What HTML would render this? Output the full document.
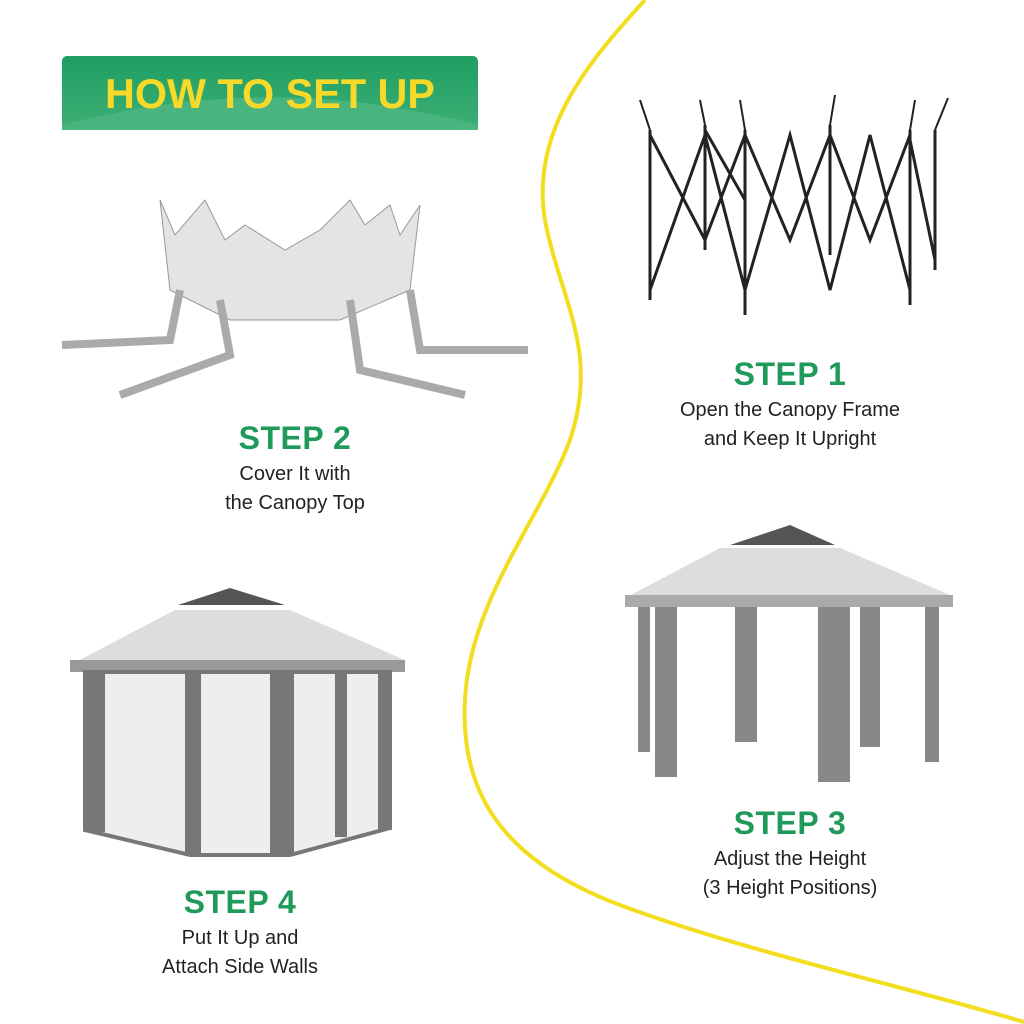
<!DOCTYPE html>
<html><head><meta charset="utf-8"><style>
body{margin:0;width:1024px;height:1024px;background:#fff;position:relative;overflow:hidden;font-family:"Liberation Sans",sans-serif}
.t{position:absolute;text-align:center;font-weight:bold;color:#1f9a5a;font-size:32px;letter-spacing:0.5px}
.d{position:absolute;text-align:center;color:#222;font-size:20px;line-height:29px}
</style></head><body>
<svg width="1024" height="1024" style="position:absolute;left:0;top:0">
<defs><linearGradient id="g" x1="0" y1="0" x2="0" y2="1"><stop offset="0" stop-color="#1f9e62"/><stop offset="1" stop-color="#3daf75"/></linearGradient></defs>
<rect x="62" y="56" width="416" height="74" rx="5" fill="url(#g)"/>
<path d="M62 125 Q270 70 478 125 L478 130 L62 130Z" fill="#4ab47f"/>
<text x="270" y="108" text-anchor="middle" font-family="Liberation Sans" font-weight="bold" font-size="42" fill="#f7d92a" textLength="330" lengthAdjust="spacingAndGlyphs">HOW TO SET UP</text>
<path d="M645 0 C590 60 530 130 545 220 C560 300 600 350 570 440 C540 520 470 600 465 700 C460 790 500 860 620 905 C740 950 900 985 1024 1022" fill="none" stroke="#f2dd1f" stroke-width="4"/>
<g stroke="#222" stroke-width="3" fill="none">
<path d="M650 130 L650 300 M705 125 L705 250 M745 130 L745 315 M830 125 L830 255 M910 130 L910 305 M935 130 L935 270"/>
<path d="M650 135 L705 240 L745 135 L790 240 L830 135 L870 240 L910 135 M650 290 L705 135 L745 290 L790 135 L830 290 L870 135 L910 290 M705 130 L745 200 M910 140 L935 260"/>
<path d="M640 100 L650 130 M700 100 L705 125 M740 100 L745 130 M835 95 L830 125 M915 100 L910 130 M948 98 L935 130" stroke-width="2"/>
</g>
<path d="M160 200 L175 235 L205 200 L225 240 L245 225 L285 250 L320 230 L350 200 L365 225 L390 205 L400 235 L420 205 L410 290 L340 320 L230 320 L170 290Z" fill="#e4e4e4" stroke="#999"/>
<path d="M62 345 L170 340 L180 290 M120 395 L230 355 L220 300 M350 300 L360 370 L465 395 M410 290 L420 350 L528 350" stroke="#aaa" stroke-width="8" fill="none"/>
<path d="M730 545 L790 525 L835 545 Z" fill="#555"/>
<path d="M720 548 L840 548 L950 595 L625 598Z" fill="#ddd"/>
<rect x="625" y="595" width="328" height="12" fill="#aaa"/>
<g fill="#888"><rect x="638" y="607" width="12" height="145"/><rect x="655" y="607" width="22" height="170"/><rect x="735" y="607" width="22" height="135"/><rect x="818" y="607" width="32" height="175"/><rect x="860" y="607" width="20" height="140"/><rect x="925" y="607" width="14" height="155"/></g>
<path d="M178 605 L230 588 L285 605Z" fill="#555"/>
<path d="M175 610 L290 610 L405 660 L70 665Z" fill="#ddd"/>
<rect x="70" y="660" width="335" height="12" fill="#999"/>
<path d="M85 672 L390 672 L390 828 L290 855 L190 855 L85 830Z" fill="#eee" stroke="#777" stroke-width="4"/>
<g fill="#777"><rect x="85" y="672" width="20" height="160"/><rect x="185" y="672" width="16" height="182"/><rect x="270" y="672" width="24" height="183"/><rect x="335" y="672" width="12" height="165"/><rect x="378" y="672" width="14" height="158"/></g>
</svg>
<div class="t" style="left:660px;width:260px;top:356px">STEP 1</div>
<div class="d" style="left:620px;width:340px;top:396px">Open the Canopy Frame<br>and Keep It Upright</div>
<div class="t" style="left:165px;width:260px;top:420px">STEP 2</div>
<div class="d" style="left:145px;width:300px;top:460px">Cover It with<br>the Canopy Top</div>
<div class="t" style="left:660px;width:260px;top:805px">STEP 3</div>
<div class="d" style="left:620px;width:340px;top:845px">Adjust the Height<br>(3 Height Positions)</div>
<div class="t" style="left:110px;width:260px;top:884px">STEP 4</div>
<div class="d" style="left:90px;width:300px;top:924px">Put It Up and<br>Attach Side Walls</div>
</body></html>
